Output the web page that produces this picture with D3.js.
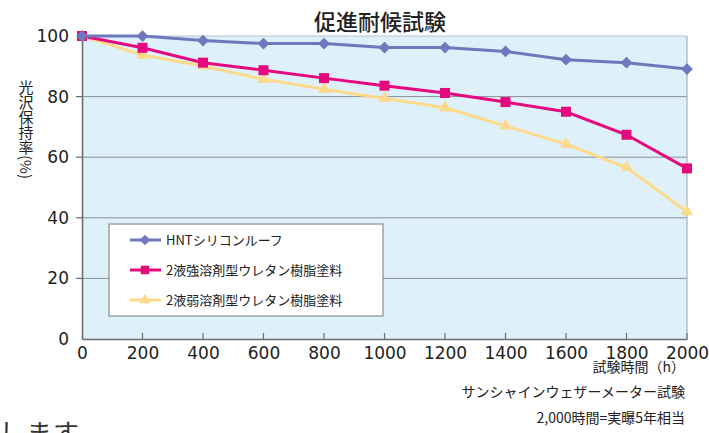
<!DOCTYPE html>
<html><head><meta charset="utf-8">
<script src="https://cdn.jsdelivr.net/npm/d3@7"></script>
<style>
html,body{margin:0;padding:0;background:#fff;overflow:hidden}
svg{display:block}
</style></head>
<body>
<svg id="c" width="709" height="433"></svg>
<script>
const hours = [0,200,400,600,800,1000,1200,1400,1600,1800,2000];
const hntValues = [100,100,98.5,97.5,97.5,96.2,96.2,94.9,92.2,91.2,89.1];
const strongValues = [100,96.1,91.2,88.7,86.1,83.6,81.2,78.2,75.0,67.4,56.3];
const weakValues = [100,93.7,90.1,85.7,82.4,79.4,76.3,70.3,64.3,56.6,42.0];
const seriesNames = ["HNTシリコンルーフ","2液強溶剤型ウレタン樹脂塗料","2液弱溶剤型ウレタン樹脂塗料"];
const yTicks = [0,20,40,60,80,100];
const xTicks = [0,200,400,600,800,1000,1200,1400,1600,1800,2000];
const titleText = "促進耐候試験";
const yTitle = "光沢保持率(%)";
const notes = ["試験時間（h）","サンシャインウェザーメーター試験","2,000時間=実曝5年相当"];

const svg = d3.select("#c");
const L=82,R=687,T=36,B=339;
const x = d3.scaleLinear().domain([0,2000]).range([L,R]);
const y = d3.scaleLinear().domain([0,100]).range([B,T]);
const numFont = "'DejaVu Sans', sans-serif";
const jpFont = "'Noto Sans CJK JP', sans-serif";

// background
svg.append("rect").attr("x",L).attr("y",T).attr("width",R-L).attr("height",B-T)
  .attr("fill","#def0f9");
// grid
svg.append("g").selectAll("line").data(yTicks.filter(d=>d>0)).join("line")
  .attr("x1",L).attr("x2",R).attr("y1",d=>y(d)).attr("y2",d=>y(d))
  .attr("stroke",d=>d===100?"#b8c4cc":"#8a8f94").attr("stroke-width",1);
// right border
svg.append("line").attr("x1",R).attr("x2",R).attr("y1",T).attr("y2",B)
  .attr("stroke","#a8b0b6").attr("stroke-width",1.2);

// axes
const yAxis = d3.axisLeft(y).tickValues(yTicks).tickFormat(d3.format("d")).tickSize(0).tickPadding(13);
const gy = svg.append("g").attr("transform",`translate(${L},0)`).call(yAxis);
gy.select(".domain").attr("stroke","#6a6e73").attr("stroke-width",1.6);
gy.selectAll("text").attr("font-family",numFont).attr("font-size",17).attr("fill","#222");
svg.append("g").selectAll("line").data(yTicks.filter(d=>d>0&&d<100)).join("line")
  .attr("x1",L-6).attr("x2",L).attr("y1",d=>y(d)).attr("y2",d=>y(d))
  .attr("stroke","#6a6e73").attr("stroke-width",1.2);

const xAxis = d3.axisBottom(x).tickValues(xTicks).tickFormat(d3.format("d")).tickSize(0).tickPadding(8);
const gx = svg.append("g").attr("transform",`translate(0,${B})`).call(xAxis);
gx.select(".domain").attr("stroke","#6a6e73").attr("stroke-width",1.6);
gx.selectAll("text").attr("font-family",numFont).attr("font-size",17).attr("fill","#222");
svg.append("g").selectAll("line").data(xTicks.filter(d=>d>0)).join("line")
  .attr("x1",d=>x(d)).attr("x2",d=>x(d)).attr("y1",B-6).attr("y2",B)
  .attr("stroke","#6a6e73").attr("stroke-width",1.2);

// series
const series = [
  {name:seriesNames[0], values:hntValues, color:"#6e78bc", sym:d3.symbolDiamond2, size:88, lsize:72},
  {name:seriesNames[1], values:strongValues, color:"#e5097f", sym:d3.symbolSquare, size:100, lsize:72},
  {name:seriesNames[2], values:weakValues, color:"#fdd98b", sym:d3.symbolTriangle, size:68, lsize:52}
];
const line = d3.line().x((d,i)=>x(hours[i])).y(d=>y(d));
[...series].reverse().forEach(s=>{
  svg.append("path").datum(s.values).attr("d",line)
    .attr("fill","none").attr("stroke",s.color).attr("stroke-width",3);
});
[...series].reverse().forEach(s=>{
  const sym = d3.symbol().type(s.sym).size(s.size);
  svg.append("g").selectAll("path").data(s.values).join("path")
    .attr("d",sym)
    .attr("transform",(d,i)=>`translate(${x(hours[i])},${y(d)})`)
    .attr("fill",s.color);
});

// legend
svg.append("rect").attr("x",109).attr("y",224).attr("width",274).attr("height",92)
  .attr("fill","#fff").attr("stroke","#777").attr("stroke-width",1);
series.forEach((s,i)=>{
  const ly = 240 + i*30;
  svg.append("line").attr("x1",130).attr("x2",161).attr("y1",ly).attr("y2",ly)
    .attr("stroke",s.color).attr("stroke-width",3);
  svg.append("path").attr("d",d3.symbol().type(s.sym).size(s.lsize))
    .attr("transform",`translate(145,${ly})`)
    .attr("fill",s.color);
  svg.append("text").attr("x",166).attr("y",ly).attr("dy","0.35em")
    .attr("font-family",jpFont).attr("font-size",13).attr("fill","#222").text(s.name);
});

// title
svg.append("text").attr("x",380).attr("y",30).attr("text-anchor","middle")
  .attr("font-family",jpFont).attr("font-size",22).attr("font-weight",500).attr("fill","#222").text(titleText);

// y title vertical
svg.append("text").attr("x",26).attr("y",80)
  .attr("style","writing-mode: vertical-rl; text-orientation: mixed;")
  .attr("font-family",jpFont).attr("font-size",15).attr("fill","#222").text(yTitle);

// notes
notes.forEach((t,i)=>{
  svg.append("text").attr("x",685).attr("y",[372,397,423][i]).attr("text-anchor","end")
    .attr("font-family",jpFont).attr("font-size",14).attr("fill","#222").text(t);
});

// cut-off page text
svg.append("text").attr("x",-1).attr("y",443)
  .attr("font-family",jpFont).attr("font-size",26).attr("fill","#333").attr("letter-spacing",1).text("します");
</script>
</body></html>
